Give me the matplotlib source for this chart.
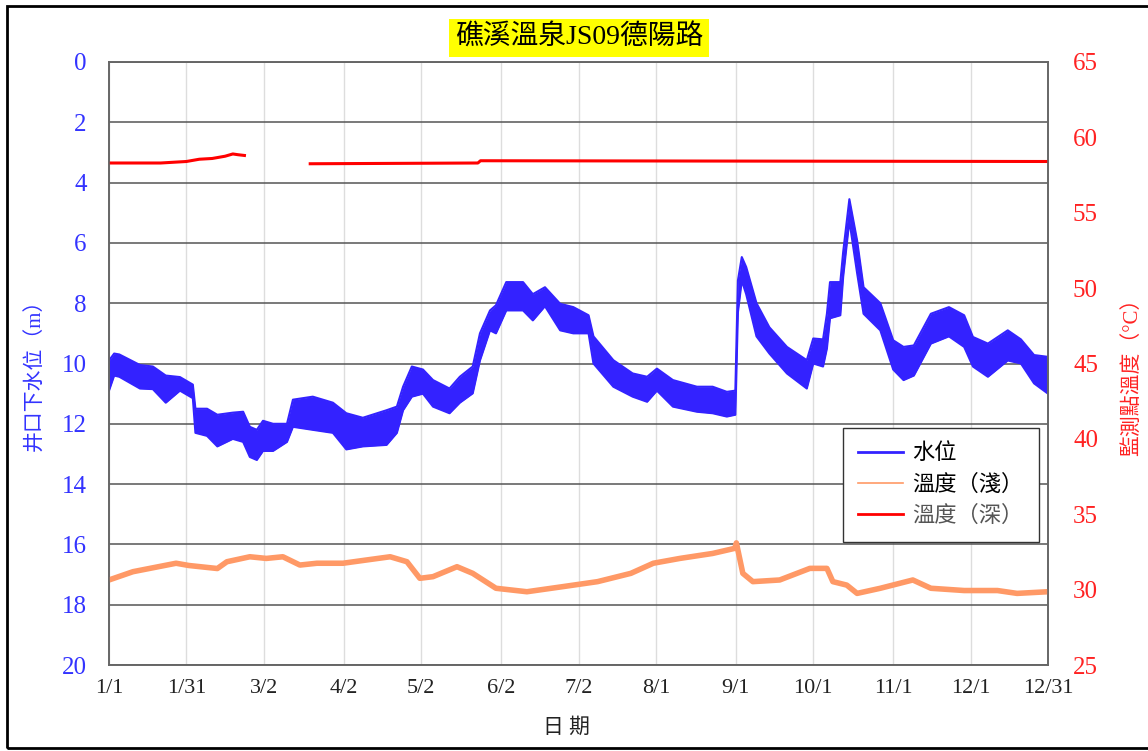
import numpy as np
import matplotlib
matplotlib.use("Agg")
import matplotlib.pyplot as plt
from matplotlib.lines import Line2D
from matplotlib.patches import Rectangle

plt.rcParams["font.family"] = ["Liberation Serif", "Noto Sans CJK TC"]

title = "礁溪溫泉JS09德陽路"

# x ticks (day of year)
tick_days = [0, 30, 60, 91, 121, 152, 182, 212, 243, 273, 304, 334, 364]
tick_labels = ["1/1", "1/31", "3/2", "4/2", "5/2", "6/2", "7/2", "8/1", "9/1",
               "10/1", "11/1", "12/1", "12/31"]

# water level below well mouth (m): upper / lower edge of the noisy band
wl_day = [0, 2, 4, 12, 17, 22, 27.5, 32.5, 33.5, 38, 42, 48, 52, 54.6, 57.3, 59.7,
          63.6, 69, 71.3, 79, 86.8, 92, 98.4, 107.6, 111.6, 114, 117.4, 121.7, 125.6,
          132, 136, 141, 143.8, 147.7, 150, 154, 160.5, 164.3, 169, 174.9, 180, 185.9,
          187.8, 195.5, 203, 208.6, 212.4, 218.6, 227.9, 234, 239.5, 242.8, 243.8,
          245.3, 247, 251, 256, 262.8, 270.5, 273, 276.8, 278.3, 279.5, 283.5, 284.6,
          287, 290, 292.5, 299, 304, 308, 312, 318.6, 325.6, 331.5, 334.9, 340.7,
          348.4, 353.5, 358.6, 364]
wl_top = [9.9, 9.67, 9.7, 10.05, 10.1, 10.4, 10.45, 10.7, 11.5, 11.5, 11.7, 11.63,
          11.6, 12.1, 12.2, 11.9, 12.0, 12.0, 11.2, 11.1, 11.3, 11.65, 11.8, 11.55,
          11.43, 10.77, 10.1, 10.2, 10.55, 10.83, 10.44, 10.1, 9.0, 8.24, 8.07, 7.3,
          7.3, 7.7, 7.47, 8.02, 8.13, 8.4, 9.1, 9.89, 10.33, 10.44, 10.17, 10.55,
          10.77, 10.77, 10.94, 10.9, 7.25, 6.47, 6.8, 8.0, 8.8, 9.45, 9.89, 9.17, 9.2,
          8.35, 7.3, 7.3, 6.3, 4.55, 5.92, 7.47, 8.0, 9.23, 9.45, 9.4, 8.35, 8.13, 8.4,
          9.12, 9.34, 8.9, 9.2, 9.72, 9.78]
wl_bot = [10.9, 10.4, 10.44, 10.83, 10.85, 11.3, 10.9, 11.15, 12.3, 12.4, 12.75,
          12.5, 12.6, 13.1, 13.2, 12.9, 12.9, 12.6, 12.1, 12.2, 12.3, 12.85, 12.75,
          12.7, 12.3, 11.55, 11.1, 11.0, 11.43, 11.65, 11.3, 10.99, 9.9, 8.9, 9.0,
          8.24, 8.24, 8.57, 8.1, 8.9, 9.0, 9.0, 10.0, 10.77, 11.1, 11.27, 10.9, 11.43,
          11.6, 11.65, 11.76, 11.7, 8.3, 7.25, 7.7, 9.1, 9.67, 10.33, 10.83, 10.0,
          10.1, 9.5, 8.5, 8.4, 7.13, 5.26, 7.0, 8.35, 8.9, 10.2, 10.55, 10.4, 9.34,
          9.1, 9.45, 10.1, 10.44, 9.9, 10.0, 10.66, 11.0]

# shallow temperature (C)
st_day = [0, 9.3, 26, 31, 42, 45.7, 54.6, 61, 67.4, 74, 80.6, 90.7, 100, 109, 115.5,
          120.5, 125.6, 134.9, 141, 150, 162, 176, 189.4, 202.3, 211, 221.3, 234,
          242.6, 243.2, 245.7, 249.6, 260, 271.7, 278.3, 280.6, 286, 290, 299, 311.6,
          318.6, 331.5, 344.4, 352, 364]
st_val = [30.64, 31.19, 31.75, 31.6, 31.4, 31.85, 32.18, 32.07, 32.18, 31.63, 31.75,
          31.75, 31.97, 32.18, 31.85, 30.75, 30.86, 31.52, 31.08, 30.09, 29.86, 30.2,
          30.53, 31.08, 31.75, 32.07, 32.4, 32.74, 33.1, 31.08, 30.53, 30.64, 31.41,
          31.41, 30.53, 30.3, 29.75, 30.09, 30.64, 30.09, 29.94, 29.94, 29.75, 29.86]

# deep temperature (C), gap in Feb-Mar
dt_day = [0, 20, 30, 35, 40, 45, 48, 50, 52.5, 53, 78, 143, 144, 364]
dt_val = [58.3, 58.3, 58.4, 58.55, 58.6, 58.75, 58.9, 58.85, 58.8, np.nan, 58.25,
          58.3, 58.45, 58.4]

blue = "#3322ff"
orange = "#ff9966"
red = "#ff0000"

fig = plt.figure(figsize=(11.48, 7.51), dpi=100)
ax = fig.add_axes([109 / 1148, 86 / 751, 939 / 1148, 603 / 751])
ax2 = ax.twinx()

ax.fill_between(wl_day, wl_top, wl_bot, color=blue, lw=0)
ax.plot(wl_day, wl_top, color=blue, lw=1.5)
ax.plot(wl_day, wl_bot, color=blue, lw=1.5)

ax2.plot(st_day, st_val, color=orange, lw=4, solid_capstyle="butt")
ax2.plot(dt_day, dt_val, color=red, lw=2.2)

ax.set_xlim(0, 364)
ax.set_ylim(20, 0)
ax.set_yticks(range(0, 21, 2))
ax2.set_ylim(25, 65)
ax2.set_yticks(range(25, 66, 5))
ax.set_xticks(tick_days)
ax.set_xticklabels(tick_labels)

ax.grid(axis="y", color="#555555", lw=1.1)
ax.grid(axis="x", color="#dddddd", lw=1.0)
ax.set_axisbelow(True)
for a in (ax, ax2):
    for s in a.spines.values():
        s.set_color("#666666")
        s.set_linewidth(1.2)

ax.tick_params(axis="y", length=0, pad=16, labelsize=18, labelcolor="#3333ff")
ax.tick_params(axis="x", length=0, pad=10, labelsize=16, labelcolor="#222222")
ax2.tick_params(axis="y", length=0, pad=18, labelsize=18, labelcolor="#ff2222")

ax.set_ylabel("井口下水位（m）", color="#3333ff", fontsize=15)
ax.yaxis.set_label_coords(-0.068, 0.49)
ax2.set_ylabel("監測點溫度（°C）", color="#ff2222", fontsize=15)
ax2.yaxis.set_label_coords(1.079, 0.486)
ax.set_xlabel("日 期", fontsize=15, color="#222222")
ax.xaxis.set_label_coords(0.487, -0.088)

handles = [Line2D([], [], color=blue, lw=2),
           Line2D([], [], color=orange, lw=1.2),
           Line2D([], [], color=red, lw=2)]
leg = ax2.legend(handles, ["水位", "溫度（淺）", "溫度（深）"], loc="upper right",
                 bbox_to_anchor=(0.99, 0.393), fontsize=16, fancybox=False,
                 framealpha=1, edgecolor="#333333", handlelength=2.0,
                 handletextpad=0.4, borderpad=0.7, labelspacing=0.45,
                 borderaxespad=0)
leg.get_frame().set_linewidth(1.0)
leg.get_texts()[2].set_color("#555555")

fig.text(579 / 1148, 1 - 38 / 751, title, ha="center", va="center", fontsize=20,
         bbox=dict(boxstyle="square,pad=0.22", fc="#ffff00", ec="none"))

fig.patches.append(Rectangle((7 / 1148, 3 / 751), 1.2, 742 / 751,
                             transform=fig.transFigure, fill=False, ec="black",
                             lw=2, clip_on=False))

fig.savefig("out.png", dpi=100)
